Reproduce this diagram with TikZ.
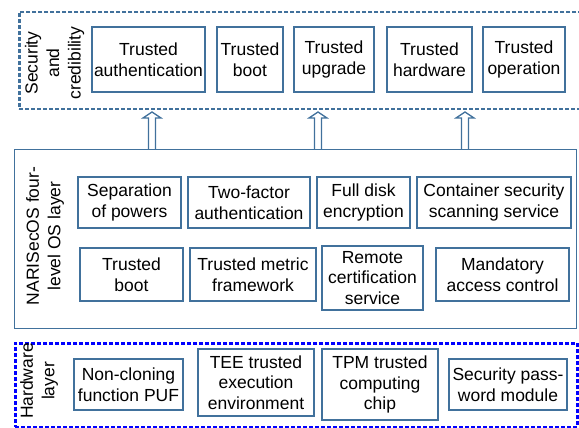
\documentclass[tikz,border=0pt]{standalone}
\usepackage{fontspec}
\setmainfont{Liberation Sans}
\definecolor{steel}{RGB}{65,113,156}
\definecolor{hwblue}{RGB}{0,0,255}

\begin{document}
\begin{tikzpicture}[x=1pt,y=-1pt]

  \useasboundingbox (0,0) rectangle (579,428);

  % node styles
  \tikzstyle{Box}=[
  draw=steel,
  line width=1.3pt,
  shape=rectangle,
  align=center,
  inner sep=0pt,
  font=\fontsize{17.5}{20.7}\selectfont]

  \tikzstyle{Frame}=[shape=rectangle,inner sep=0pt,anchor=north west]

  \tikzstyle{Label}=[rotate=90,align=center,font=\fontsize{17.5}{21.5}\selectfont]

  \tikzstyle{Arrow}=[draw=steel,line width=1.3pt,line join=miter]

  % layer frames
  \node[Frame,draw=steel,line width=2.5pt,dash pattern=on 4pt off 2pt,
        minimum width=563,minimum height=97] (sec) at (18,11) {};
  \node[Frame,draw=steel,line width=1.3pt,
        minimum width=562,minimum height=179] (os) at (14,149) {};
  \node[Frame,draw=hwblue,line width=2.5pt,dash pattern=on 4pt off 2pt,
        minimum width=562,minimum height=84] (hw) at (14,342) {};

  \node[Label] (SecL) at (54.5,63)  {Security\\and\\credibility};
  \node[Label] (OsL)  at (45,236)   {NARISecOS four-\\level OS layer};
  \node[Label] (HwL)  at (39,381)   {Hardware\\layer};

  % security and credibility
  \node[Box,minimum width=113,minimum height=65] (T1) at (148.5,59.5) {Trusted\\authentication};
  \node[Box,minimum width=66, minimum height=65] (T2) at (250,59.5)   {Trusted\\boot};
  \node[Box,minimum width=80, minimum height=65] (T3) at (334,59.5)   {Trusted\\upgrade};
  \node[Box,minimum width=85, minimum height=65] (T4) at (429.5,59.5) {Trusted\\hardware};
  \node[Box,minimum width=82, minimum height=65] (T5) at (524,59.5)   {Trusted\\operation};

  % OS layer
  \node[Box,minimum width=103,minimum height=51] (O1) at (129.5,202.5) {Separation\\of powers};
  \node[Box,minimum width=122,minimum height=51] (O2) at (249,202.5)   {Two-factor\\authentication};
  \node[Box,minimum width=93, minimum height=51] (O3) at (363.5,202.5) {Full disk\\encryption};
  \node[Box,minimum width=154,minimum height=51] (O4) at (494,202.5)   {Container security\\scanning service};

  \node[Box,minimum width=103,minimum height=53] (O5) at (131.5,274.5) {Trusted\\boot};
  \node[Box,minimum width=126,minimum height=53] (O6) at (253,274.5)   {Trusted metric\\framework};
  \node[Box,minimum width=101,minimum height=64] (O7) at (372.5,278)   {Remote\\certification\\service};
  \node[Box,minimum width=133,minimum height=53] (O8) at (502.5,274.5) {Mandatory\\access control};

  % hardware layer
  \node[Box,minimum width=109,minimum height=51] (H1) at (128.5,384.5) {Non-cloning\\function PUF};
  \node[Box,minimum width=116,minimum height=67] (H2) at (256,382.5)   {TEE trusted\\execution\\environment};
  \node[Box,minimum width=116,minimum height=71] (H3) at (380,384.5)   {TPM trusted\\computing\\chip};
  \node[Box,minimum width=118,minimum height=51] (H4) at (508,384.5)   {Security pass-\\word module};

  % arrows up to the top layer
  \coordinate (P1) at (152,0);
  \coordinate (P2) at (318,0);
  \coordinate (P3) at (465,0);

  \draw[Arrow] (os.north -| P1) ++(-3.5,0) -- ++(0,-31) -- ++(-5.5,0) -- ++(9,-6) -- ++(9,6) -- ++(-5.5,0) -- ++(0,31);
  \draw[Arrow] (os.north -| P2) ++(-3.5,0) -- ++(0,-31) -- ++(-5.5,0) -- ++(9,-6) -- ++(9,6) -- ++(-5.5,0) -- ++(0,31);
  \draw[Arrow] (os.north -| P3) ++(-3.5,0) -- ++(0,-31) -- ++(-5.5,0) -- ++(9,-6) -- ++(9,6) -- ++(-5.5,0) -- ++(0,31);

\end{tikzpicture}
\end{document}
